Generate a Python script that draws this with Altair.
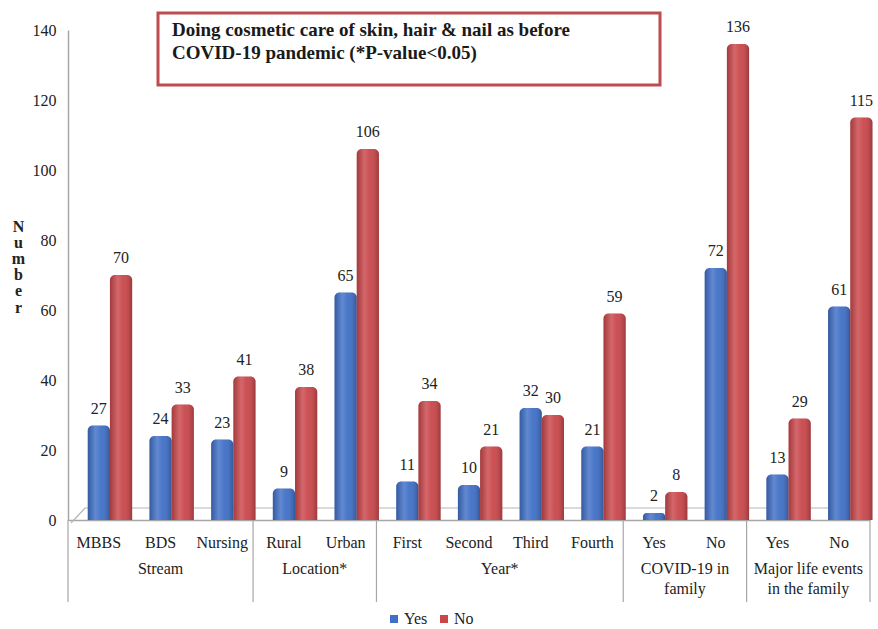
import altair as alt
import pandas as pd

categories = ["MBBS", "BDS", "Nursing", "Rural", "Urban", "First", "Second", "Third",
              "Fourth", "Yes", "No", "Yes", "No"]
groups = ["Stream", "Stream", "Stream", "Location*", "Location*", "Year*", "Year*", "Year*",
          "Year*", "COVID-19 in\nfamily", "COVID-19 in\nfamily",
          "Major life events\nin the family", "Major life events\nin the family"]
yes_vals = [27, 24, 23, 9, 65, 11, 10, 32, 21, 2, 72, 13, 61]
no_vals = [70, 33, 41, 38, 106, 34, 21, 30, 59, 8, 136, 29, 115]
series = ["Yes", "No"]
colors = ["#3F6FC6", "#C9464A"]
title_text_str = ("Doing cosmetic care of skin, hair & nail as before\n"
                  "COVID-19 pandemic (*P-value<0.05)")
y_ticks = [0, 20, 40, 60, 80, 100, 120, 140]

FONT = "Liberation Serif"
W, H = 802, 490
BW = 0.36

rows = []
for i, c in enumerate(categories):
    pos = i + 0.5
    for s, v in zip(series, (yes_vals[i], no_vals[i])):
        start = pos - BW / 2 if s == "Yes" else pos + BW / 2
        rows.append({"cat": c, "idx": i, "series": s, "value": v,
                     "x0": start, "x1": start + BW, "xc": start + BW / 2})
bars_df = pd.DataFrame(rows)

cat_df = pd.DataFrame({"cat": categories, "pos": [i + 0.5 for i in range(len(categories))]})

grp_rows = []
bounds = [0]
for i, g in enumerate(groups):
    if i == 0 or g != groups[i - 1]:
        grp_rows.append({"group": g, "start": i, "end": i + 1})
        if i > 0:
            bounds.append(i)
    else:
        grp_rows[-1]["end"] = i + 1
bounds.append(len(groups))
grp_df = pd.DataFrame(grp_rows)
grp_df["mid"] = (grp_df["start"] + grp_df["end"]) / 2
sep_df = pd.DataFrame({"b": bounds})

xscale = alt.Scale(domain=[0, len(categories)], nice=False, zero=False)
yscale = alt.Scale(domain=[0, 140], nice=False)

one = pd.DataFrame({"k": [0]})
floor_back = alt.Chart(one).mark_rule(color="#B5B5B5", strokeWidth=1.2).encode(
    x=alt.value(17), x2=alt.value(W + 2), y=alt.value(H - 12), y2=alt.value(H - 12))
floor_diag = alt.Chart(one).mark_rule(color="#B5B5B5", strokeWidth=1.2).encode(
    x=alt.value(3), x2=alt.value(17), y=alt.value(H + 3), y2=alt.value(H - 12))

bars = alt.Chart(bars_df).mark_bar(cornerRadiusTopLeft=5, cornerRadiusTopRight=5).encode(
    x=alt.X("x0:Q", scale=xscale,
            axis=alt.Axis(labels=False, ticks=False, title=None, grid=False,
                          domainColor="#A6A6A6", domainWidth=1.5)),
    x2="x1:Q",
    y=alt.Y("value:Q", scale=yscale,
            axis=alt.Axis(values=y_ticks, grid=False, ticks=False, domainColor="#A6A6A6",
                          domainWidth=1.5, labelFont=FONT, labelFontSize=16,
                          labelColor="#222222", labelPadding=12,
                          title=list("Number"), titleAngle=0, titleFont=FONT,
                          titleFontSize=16, titleFontWeight="bold", titleColor="#222222",
                          titleX=-50, titleY=196, titleBaseline="middle",
                          titleLineHeight=16.2, titleAlign="center")),
    y2=alt.datum(0),
    color=alt.Color("series:N", scale=alt.Scale(domain=series, range=colors),
                    legend=alt.Legend(title=None, orient="none", direction="horizontal",
                                      legendX=318, legendY=581, symbolType="square",
                                      symbolSize=64, symbolStrokeWidth=0,
                                      labelFont=FONT, labelFontSize=16,
                                      labelColor="#222222", columnPadding=8,
                                      labelOffset=2)),
)

shade = alt.Chart(bars_df).mark_bar(
    cornerRadiusTopLeft=5, cornerRadiusTopRight=5,
    fill=alt.Gradient(gradient="linear", x1=0, x2=1, y1=0, y2=0,
                      stops=[alt.GradientStop(offset=0, color="rgba(0,0,0,0.18)"),
                             alt.GradientStop(offset=0.35, color="rgba(255,255,255,0.18)"),
                             alt.GradientStop(offset=0.6, color="rgba(255,255,255,0.05)"),
                             alt.GradientStop(offset=1, color="rgba(0,0,0,0.22)")])
).encode(
    x=alt.X("x0:Q", scale=xscale), x2="x1:Q",
    y=alt.Y("value:Q", scale=yscale), y2=alt.datum(0),
)

value_labels = alt.Chart(bars_df).mark_text(font=FONT, fontSize=16, color="#222222",
                                            baseline="bottom", dy=-9).encode(
    x=alt.X("xc:Q", scale=xscale), y=alt.Y("value:Q", scale=yscale), text="value:Q")

seps = alt.Chart(sep_df).mark_rule(color="#A6A6A6", strokeWidth=1.2).encode(
    x=alt.X("b:Q", scale=xscale), y=alt.value(H), y2=alt.value(H + 82))

cat_labels = alt.Chart(cat_df).mark_text(font=FONT, fontSize=16, color="#222222",
                                         baseline="middle").encode(
    x=alt.X("pos:Q", scale=xscale), y=alt.value(H + 23), text="cat:N")

grp_labels = alt.Chart(grp_df).mark_text(font=FONT, fontSize=16, color="#222222",
                                         baseline="middle", lineBreak="\n",
                                         lineHeight=20).encode(
    x=alt.X("mid:Q", scale=xscale), y=alt.value(H + 49), text="group:N")

box_df = pd.DataFrame({"t": [title_text_str]})
title_box = alt.Chart(box_df).mark_rect(fill="white", stroke="#BE4B4E",
                                        strokeWidth=3).encode(
    x=alt.value(90), x2=alt.value(592), y=alt.value(-17), y2=alt.value(55))

title_text = alt.Chart(box_df).mark_text(font=FONT, fontSize=19, fontWeight="bold",
                                         color="#1a1a1a", align="left", baseline="top",
                                         lineBreak="\n", lineHeight=23).encode(
    x=alt.value(104), y=alt.value(-9), text="t:N")

chart = alt.layer(
    floor_back, floor_diag, seps, bars, shade, value_labels, cat_labels, grp_labels,
    title_box, title_text
).properties(
    width=W, height=H,
    autosize=alt.AutoSizeParams(type="none"),
    padding={"left": 68, "top": 30, "right": 8, "bottom": 109},
    background="white",
).configure_view(stroke=None)

chart.save("out.html", embed_options={"renderer": "svg", "actions": False})
